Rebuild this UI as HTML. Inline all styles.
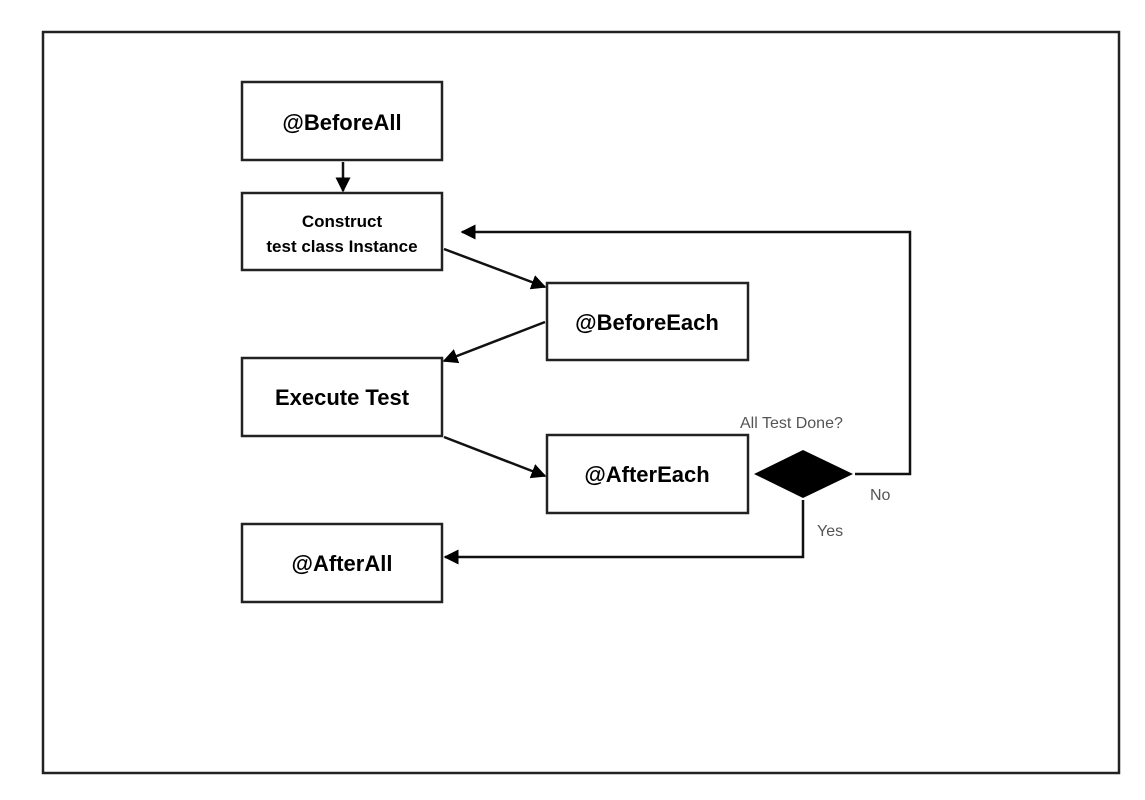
<!DOCTYPE html>
<html><head><style>
body{margin:0;background:#fff;width:1145px;height:800px;overflow:hidden}
svg{position:absolute;left:0;top:0}
text{font-family:"Liberation Sans",sans-serif}
</style></head><body>
<svg width="1145" height="800" viewBox="0 0 1145 800">
<defs><marker id="a" viewBox="0 0 10 10" refX="9" refY="5" markerWidth="6" markerHeight="6" orient="auto"><path d="M0,0L10,5L0,10z" fill="#000"/></marker></defs>
<rect x="43" y="32" width="1076" height="741" fill="none" stroke="#222" stroke-width="2.5"/>
<g fill="#fff" stroke="#222" stroke-width="2.5">
<rect x="242" y="82" width="200" height="78"/>
<rect x="242" y="193" width="200" height="77"/>
<rect x="547" y="283" width="201" height="77"/>
<rect x="242" y="358" width="200" height="78"/>
<rect x="547" y="435" width="201" height="78"/>
<rect x="242" y="524" width="200" height="78"/>
</g>
<polygon points="754,474 803,450 853,474 803,498" fill="#000"/>
<g stroke="#111" stroke-width="2.5" fill="none" marker-end="url(#a)">
<line x1="343" y1="162" x2="343" y2="191"/>
<line x1="444" y1="249" x2="545" y2="287"/>
<line x1="545" y1="322" x2="444" y2="361"/>
<line x1="444" y1="437" x2="545" y2="476"/>
<polyline points="855,474 910,474 910,232 462,232"/>
<polyline points="803,500 803,557 445,557"/>
</g>
<g font-weight="bold" text-anchor="middle" fill="#000">
<text x="342" y="130" font-size="22">@BeforeAll</text>
<text x="342" y="227" font-size="17">Construct</text>
<text x="342" y="252" font-size="17">test class Instance</text>
<text x="647" y="330" font-size="22">@BeforeEach</text>
<text x="342" y="405" font-size="22">Execute Test</text>
<text x="647" y="482" font-size="22">@AfterEach</text>
<text x="342" y="571" font-size="22">@AfterAll</text>
</g>
<g fill="#555" font-size="16">
<text x="740" y="428">All Test Done?</text>
<text x="870" y="500">No</text>
<text x="817" y="536">Yes</text>
</g>
</svg>
</body></html>
